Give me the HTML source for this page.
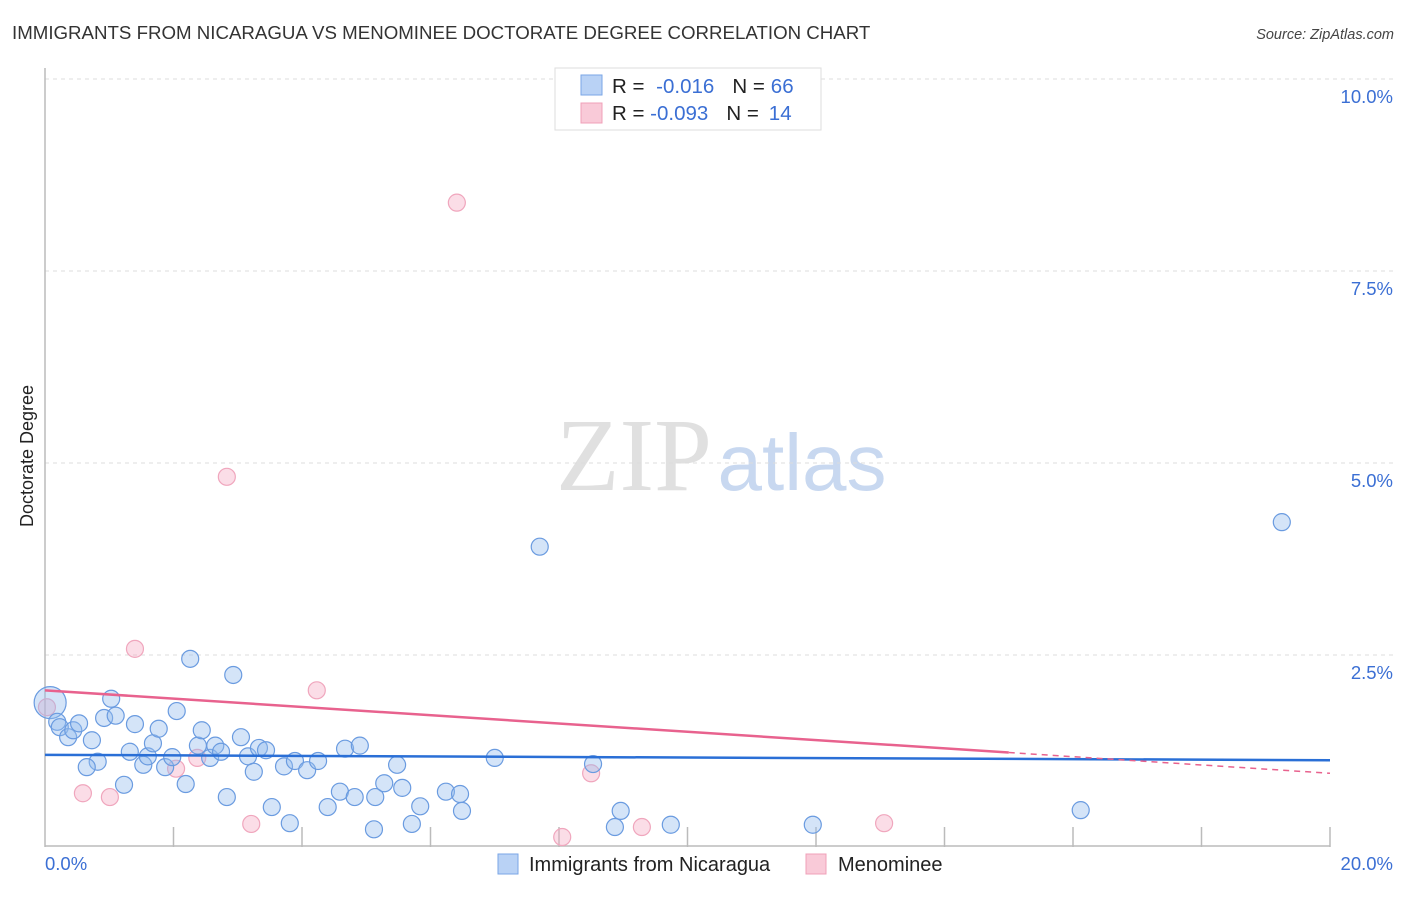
<!DOCTYPE html>
<html><head><meta charset="utf-8">
<style>
body{margin:0;background:#fff;font-family:"Liberation Sans",sans-serif;}
svg text{font-family:"Liberation Sans",sans-serif;}
</style></head>
<body>
<svg id="chart" width="1406" height="892" xmlns="http://www.w3.org/2000/svg">
<text x="12" y="39" font-size="18.7" fill="#333">IMMIGRANTS FROM NICARAGUA VS MENOMINEE DOCTORATE DEGREE CORRELATION CHART</text>
<text x="1394" y="39" font-size="14.5" fill="#444" font-style="italic" text-anchor="end">Source: ZipAtlas.com</text>
<g>
<text x="634" y="490" font-size="104" fill="#e0e0e0" text-anchor="middle" style="font-family:'Liberation Serif',serif">ZIP</text>
<text x="802" y="490" font-size="80" fill="#c8d8f0" text-anchor="middle">atlas</text>
</g>
<g id="grid"></g>
<g id="axes"></g>
<g id="marks"></g>
<text transform="translate(33,456) rotate(-90)" font-size="18" fill="#222" text-anchor="middle">Doctorate Degree</text>
<g>
<rect x="555" y="68" width="266" height="62" fill="#fff" stroke="#ddd"/>
<rect x="581" y="75" width="21" height="20" fill="#b9d2f5" stroke="#7aa6e6"/>
<rect x="581" y="103" width="21" height="20" fill="#f9cad8" stroke="#f0a0b8"/>
<text x="612" y="93" font-size="20.5" fill="#222">R = <tspan fill="#3b6fd4" dx="6">-0.016</tspan><tspan fill="#222" dx="18">N =</tspan><tspan fill="#3b6fd4" dx="6">66</tspan></text>
<text x="612" y="120" font-size="20.5" fill="#222">R = <tspan fill="#3b6fd4">-0.093</tspan><tspan fill="#222" dx="18">N =</tspan><tspan fill="#3b6fd4" dx="10">14</tspan></text>
</g>
<g>
<rect x="498" y="854" width="20" height="20" fill="#b9d2f5" stroke="#7aa6e6"/>
<text x="529" y="871" font-size="20" fill="#222">Immigrants from Nicaragua</text>
<rect x="806" y="854" width="20" height="20" fill="#f9cad8" stroke="#f0a0b8"/>
<text x="838" y="871" font-size="20" fill="#222">Menominee</text>
</g>
</svg>
<script>
const yTicks=[2.5,5.0,7.5,10.0];
const yTickLabels=["2.5%","5.0%","7.5%","10.0%"];
const xTickValues=[0,2,4,6,8,10,12,14,16,18,20];
const xLabels=["0.0%","20.0%"];
const blueX=[0.08,0.19,0.23,0.36,0.44,0.53,0.82,0.65,0.73,0.92,1.03,1.10,1.23,1.32,1.40,1.53,1.60,1.68,1.77,1.87,1.98,2.05,2.19,2.26,2.38,2.44,2.57,2.65,2.74,2.83,2.93,3.05,3.16,3.25,3.33,3.44,3.53,3.72,3.81,3.89,4.08,4.25,4.40,4.59,4.67,4.82,4.90,5.12,5.14,5.28,5.48,5.56,5.71,5.84,6.24,6.46,6.49,7.00,7.70,8.53,8.87,8.96,9.74,11.95,16.12,19.25];
const blueY=[1.88,1.63,1.56,1.43,1.52,1.61,1.11,1.04,1.39,1.68,1.93,1.71,0.81,1.24,1.60,1.07,1.18,1.35,1.54,1.04,1.17,1.77,0.82,2.45,1.32,1.52,1.16,1.32,1.24,0.65,2.24,1.43,1.18,0.98,1.29,1.26,0.52,1.05,0.31,1.12,1.00,1.12,0.52,0.72,1.28,0.65,1.32,0.23,0.65,0.83,1.07,0.77,0.30,0.53,0.72,0.69,0.47,1.16,3.91,1.08,0.26,0.47,0.29,0.29,0.48,4.23];
const pinkX=[0.03,0.59,1.01,1.40,2.04,2.37,2.83,3.21,4.23,6.41,8.05,8.50,9.29,13.06];
const pinkY=[1.82,0.70,0.65,2.58,1.02,1.16,4.82,0.30,2.04,8.39,0.13,0.96,0.26,0.31];
const blueTrend=[1.20,1.13];
const pinkTrend=[2.04,0.96];
const pinkSolidEnd=15.0;
const X0=45,X1=1330,Y0=847,Y1=79;
const sx=v=>X0+(X1-X0)*v/20;
const sy=v=>Y0-(Y0-Y1)*v/10;
const NS="http://www.w3.org/2000/svg";
function mk(tag,attrs,parent){const e=document.createElementNS(NS,tag);for(const k in attrs)e.setAttribute(k,attrs[k]);parent.appendChild(e);return e;}
const grid=document.getElementById('grid'),axes=document.getElementById('axes'),marks=document.getElementById('marks');
yTicks.forEach((t,i)=>{
  const l=mk('line',{x1:X0,x2:1394,y1:sy(t),y2:sy(t),stroke:'#ddd','stroke-dasharray':'4,4'},grid);
  
  
  const tx=mk('text',{x:1393,y:sy(t)+24,'font-size':18.5,fill:'#3b6fd4','text-anchor':'end'},axes);
  tx.textContent=yTickLabels[i];
  
  
});
const ya=mk('line',{x1:X0,x2:X0,y1:68,y2:Y0,stroke:'#bbb','stroke-width':1.5},axes);


const xa=mk('line',{x1:X0,x2:X1,y1:Y0-1,y2:Y0-1,stroke:'#bbb','stroke-width':1.5},axes);


xTickValues.forEach(v=>{
  if(v===0)return;
  const t=mk('line',{x1:sx(v),x2:sx(v),y1:827,y2:Y0,stroke:'#bbb','stroke-width':1.5},axes);
  
  
});
const xl0=mk('text',{x:45,y:870,'font-size':18.5,fill:'#3b6fd4'},axes);xl0.textContent=xLabels[0];


const xl1=mk('text',{x:1393,y:870,'font-size':18.5,fill:'#3b6fd4','text-anchor':'end'},axes);xl1.textContent=xLabels[1];


pinkX.forEach((x,i)=>{
  const c=mk('circle',{cx:sx(x),cy:sy(pinkY[i]),r:8.5,fill:'rgba(246,170,195,0.4)',stroke:'#f0a6bd','stroke-width':1.2},marks);
  
  
});
blueX.forEach((x,i)=>{
  const c=mk('circle',{cx:sx(x),cy:sy(blueY[i]),r:i===0?16:8.5,fill:'rgba(147,187,237,0.4)',stroke:'#6a9be0','stroke-width':1.2},marks);
  
  
});
const pt=v=>pinkTrend[0]+(pinkTrend[1]-pinkTrend[0])*v/20;
const bl=mk('line',{x1:sx(0),x2:sx(20),y1:sy(blueTrend[0]),y2:sy(blueTrend[1]),stroke:'#2a6fd6','stroke-width':2.5},marks);


const pl=mk('line',{x1:sx(0),x2:sx(pinkSolidEnd),y1:sy(pt(0)),y2:sy(pt(pinkSolidEnd)),stroke:'#e8628e','stroke-width':2.5},marks);


const pd=mk('line',{x1:sx(pinkSolidEnd),x2:sx(20),y1:sy(pt(pinkSolidEnd)),y2:sy(pt(20)),stroke:'#e8628e','stroke-width':1.5,'stroke-dasharray':'6,5'},marks);


</script>
</body></html>
